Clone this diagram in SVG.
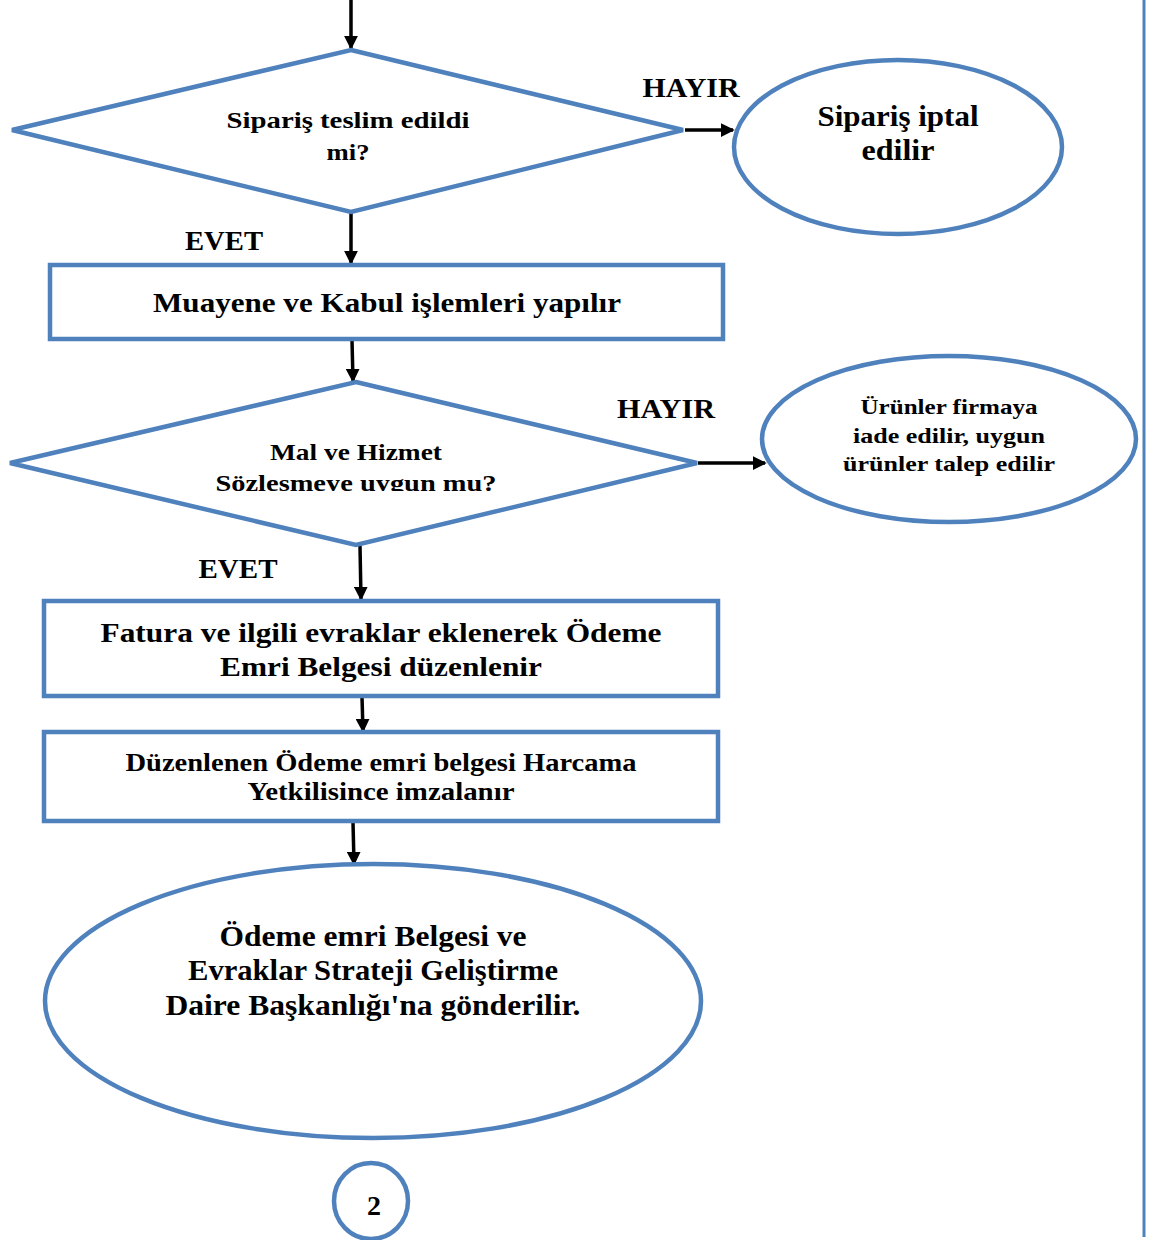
<svg xmlns="http://www.w3.org/2000/svg" width="1152" height="1240" viewBox="0 0 1152 1240">
<style>
.sh{fill:#fff;stroke:#4F81BD;stroke-width:4.5}
.t{font-family:"Liberation Serif","DejaVu Serif",serif;font-weight:bold;fill:#000;text-anchor:middle}
.c{stroke:#000;stroke-width:3.5;fill:none;marker-end:url(#ah)}
</style>
<defs>
<marker id="ah" markerWidth="4" markerHeight="4" refX="3.5" refY="2" orient="auto" markerUnits="strokeWidth">
<path d="M0,0 L4,2 L0,4 z" fill="#000"/>
</marker>
<clipPath id="clipD2"><rect x="0" y="380" width="760" height="111"/></clipPath>
</defs>
<rect width="1152" height="1240" fill="#fff"/>
<line x1="1144" y1="0" x2="1144" y2="1237" stroke="#4F81BD" stroke-width="3"/>

<g id="connectors">
<line class="c" x1="351" y1="0" x2="351" y2="48"/>
<line class="c" x1="685" y1="130" x2="733" y2="130"/>
<line class="c" x1="351" y1="213" x2="351" y2="263"/>
<line class="c" x1="352" y1="340" x2="353" y2="381"/>
<line class="c" x1="698" y1="463" x2="765" y2="463"/>
<line class="c" x1="360" y1="546" x2="361" y2="599"/>
<line class="c" x1="362" y1="697" x2="363" y2="731"/>
<line class="c" x1="353" y1="822" x2="354" y2="864"/>
</g>

<g id="d1">
<polygon class="sh" points="351,50 683,130 351,212 12,130"/>
<text class="t" x="348" y="128" font-size="24" textLength="243" lengthAdjust="spacingAndGlyphs">Sipariş teslim edildi</text>
<text class="t" x="348" y="160" font-size="24" textLength="43" lengthAdjust="spacingAndGlyphs">mi?</text>
</g>
<text id="hayir1" class="t" x="691" y="97" font-size="28" textLength="97" lengthAdjust="spacingAndGlyphs">HAYIR</text>
<g id="e1">
<ellipse class="sh" cx="898" cy="147" rx="164" ry="87"/>
<text class="t" x="898" y="126" font-size="30" textLength="161" lengthAdjust="spacingAndGlyphs">Sipariş iptal</text>
<text class="t" x="898" y="160" font-size="30" textLength="73" lengthAdjust="spacingAndGlyphs">edilir</text>
</g>
<text id="evet1" class="t" x="224" y="250" font-size="28" textLength="78" lengthAdjust="spacingAndGlyphs">EVET</text>
<g id="r1">
<rect class="sh" x="50" y="265" width="673" height="74"/>
<text class="t" x="387" y="312" font-size="28" textLength="468" lengthAdjust="spacingAndGlyphs">Muayene ve Kabul işlemleri yapılır</text>
</g>
<g id="d2">
<polygon class="sh" points="356,382 697,463 356,545 10,463"/>
<text class="t" x="356" y="460" font-size="24" textLength="172" lengthAdjust="spacingAndGlyphs">Mal ve Hizmet</text>
<text class="t" x="356" y="491" font-size="24" textLength="281" lengthAdjust="spacingAndGlyphs" clip-path="url(#clipD2)">Sözlesmeye uygun mu?</text>
</g>
<text id="hayir2" class="t" x="666" y="418" font-size="28" textLength="98" lengthAdjust="spacingAndGlyphs">HAYIR</text>
<g id="e2">
<ellipse class="sh" cx="949" cy="439" rx="187" ry="83"/>
<text class="t" x="949" y="414" font-size="22" textLength="177" lengthAdjust="spacingAndGlyphs">Ürünler firmaya</text>
<text class="t" x="949" y="443" font-size="22" textLength="192" lengthAdjust="spacingAndGlyphs">iade edilir, uygun</text>
<text class="t" x="949" y="471" font-size="22" textLength="212" lengthAdjust="spacingAndGlyphs">ürünler talep edilir</text>
</g>
<text id="evet2" class="t" x="238" y="578" font-size="28" textLength="79" lengthAdjust="spacingAndGlyphs">EVET</text>
<g id="r2">
<rect class="sh" x="44" y="601" width="674" height="95"/>
<text class="t" x="381" y="642" font-size="28" textLength="561" lengthAdjust="spacingAndGlyphs">Fatura ve ilgili evraklar eklenerek Ödeme</text>
<text class="t" x="381" y="676" font-size="28" textLength="322" lengthAdjust="spacingAndGlyphs">Emri Belgesi düzenlenir</text>
</g>
<g id="r3">
<rect class="sh" x="44" y="732" width="674" height="89"/>
<text class="t" x="381" y="771" font-size="25" textLength="511" lengthAdjust="spacingAndGlyphs">Düzenlenen Ödeme emri belgesi Harcama</text>
<text class="t" x="381" y="800" font-size="25" textLength="267" lengthAdjust="spacingAndGlyphs">Yetkilisince imzalanır</text>
</g>
<g id="e3">
<ellipse class="sh" cx="373" cy="1001" rx="328" ry="137"/>
<text class="t" x="373" y="946" font-size="29" textLength="307" lengthAdjust="spacingAndGlyphs">Ödeme emri Belgesi ve</text>
<text class="t" x="373" y="980" font-size="29" textLength="370" lengthAdjust="spacingAndGlyphs">Evraklar Strateji Geliştirme</text>
<text class="t" x="373" y="1015" font-size="29" textLength="415" lengthAdjust="spacingAndGlyphs">Daire Başkanlığı'na gönderilir.</text>
</g>
<g id="c2">
<ellipse class="sh" cx="371" cy="1201" rx="37" ry="38"/>
<text class="t" x="374" y="1215" font-size="28">2</text>
</g>
</svg>
